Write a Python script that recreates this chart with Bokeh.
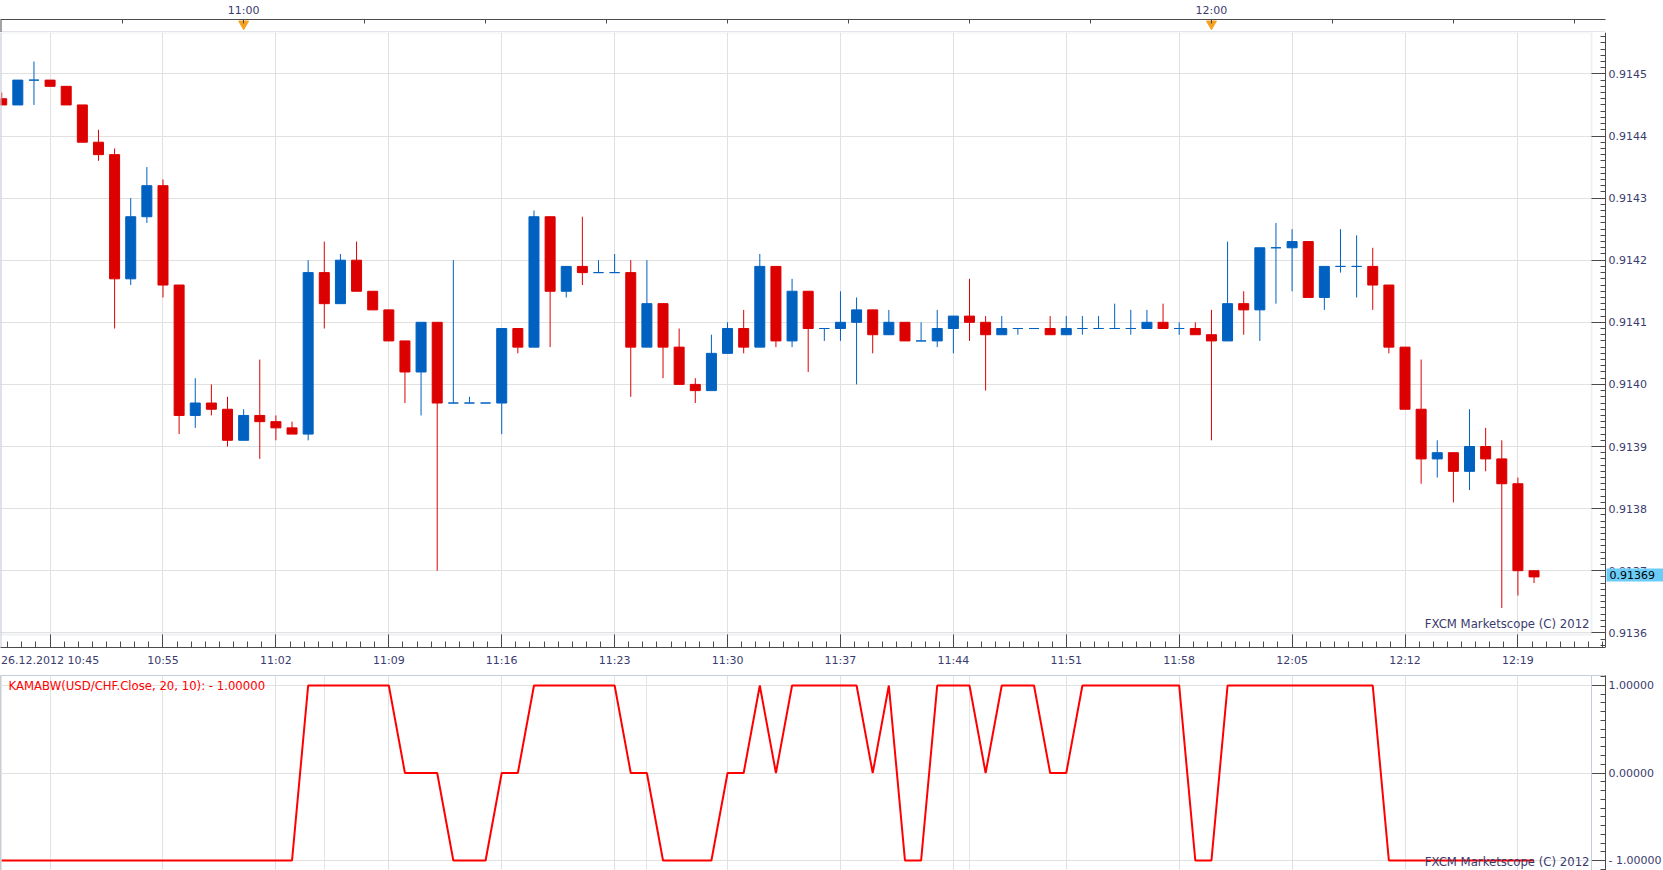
import numpy as np
import pandas as pd
from bokeh.plotting import figure
from bokeh.layouts import column
from bokeh.models import (Range1d, FixedTicker, Span, Label, Grid, ColumnDataSource,
                          PrintfTickFormatter, BoxAnnotation)
from bokeh.embed import file_html
from bokeh.resources import INLINE

# ---------------- data (USD/CHF, 1-minute candles, 26.12.2012) ----------------
start_time = "2012-12-26 10:45"
opens = [0.91446, 0.91445, 0.91449, 0.91449, 0.91448, 0.91445, 0.91439, 0.91437, 0.91417, 0.91427,
         0.91432, 0.91416, 0.91395, 0.91397, 0.91396, 0.91391, 0.91395, 0.91394, 0.91393, 0.91392,
         0.91418, 0.91413, 0.91420, 0.91415, 0.91412, 0.91407, 0.91402, 0.91410, 0.91397, 0.91397,
         0.91397, 0.91397, 0.91409, 0.91406, 0.91427, 0.91415, 0.91419, 0.91418, 0.91418, 0.91418,
         0.91406, 0.91413, 0.91406, 0.91400, 0.91399, 0.91405, 0.91409, 0.91406, 0.91419, 0.91407,
         0.91415, 0.91409, 0.91409, 0.91410, 0.91412, 0.91408, 0.91410, 0.91407, 0.91407, 0.91409,
         0.91411, 0.91410, 0.91408, 0.91409, 0.91409, 0.91409, 0.91408, 0.91409, 0.91409, 0.91409,
         0.91409, 0.91409, 0.91410, 0.91409, 0.91409, 0.91408, 0.91407, 0.91413, 0.91412, 0.91422,
         0.91422, 0.91423, 0.91414, 0.91419, 0.91419, 0.91419, 0.91416, 0.91406, 0.91396, 0.91388,
         0.91389, 0.91386, 0.91390, 0.91388, 0.91384, 0.91370]
highs = [0.91447, 0.91449, 0.91452, 0.91449, 0.91448, 0.91445, 0.91441, 0.91438, 0.91430, 0.91435,
         0.91433, 0.91416, 0.91401, 0.91400, 0.91398, 0.91396, 0.91404, 0.91395, 0.91394, 0.91420,
         0.91423, 0.91421, 0.91423, 0.91415, 0.91412, 0.91407, 0.91410, 0.91410, 0.91420, 0.91398,
         0.91397, 0.91409, 0.91409, 0.91428, 0.91427, 0.91419, 0.91427, 0.91420, 0.91421, 0.91420,
         0.91420, 0.91413, 0.91409, 0.91401, 0.91408, 0.91410, 0.91412, 0.91421, 0.91419, 0.91417,
         0.91415, 0.91409, 0.91415, 0.91414, 0.91412, 0.91412, 0.91410, 0.91410, 0.91412, 0.91411,
         0.91417, 0.91411, 0.91411, 0.91409, 0.91409, 0.91411, 0.91411, 0.91411, 0.91411, 0.91413,
         0.91412, 0.91412, 0.91413, 0.91410, 0.91410, 0.91412, 0.91423, 0.91415, 0.91422, 0.91426,
         0.91425, 0.91423, 0.91419, 0.91425, 0.91424, 0.91422, 0.91416, 0.91406, 0.91404, 0.91391,
         0.91389, 0.91396, 0.91393, 0.91391, 0.91385, 0.91370]
lows = [0.91445, 0.91445, 0.91445, 0.91448, 0.91445, 0.91439, 0.91436, 0.91409, 0.91416, 0.91426,
        0.91414, 0.91392, 0.91393, 0.91395, 0.91390, 0.91391, 0.91388, 0.91391, 0.91392, 0.91391,
        0.91409, 0.91413, 0.91415, 0.91412, 0.91407, 0.91397, 0.91395, 0.91370, 0.91397, 0.91397,
        0.91397, 0.91392, 0.91405, 0.91406, 0.91406, 0.91414, 0.91416, 0.91418, 0.91418, 0.91398,
        0.91406, 0.91401, 0.91400, 0.91397, 0.91399, 0.91405, 0.91405, 0.91406, 0.91406, 0.91406,
        0.91402, 0.91407, 0.91407, 0.91400, 0.91405, 0.91408, 0.91407, 0.91407, 0.91406, 0.91405,
        0.91407, 0.91399, 0.91408, 0.91408, 0.91409, 0.91408, 0.91408, 0.91408, 0.91409, 0.91409,
        0.91408, 0.91409, 0.91409, 0.91408, 0.91408, 0.91391, 0.91407, 0.91408, 0.91407, 0.91413,
        0.91415, 0.91414, 0.91412, 0.91418, 0.91414, 0.91412, 0.91405, 0.91396, 0.91384, 0.91385,
        0.91381, 0.91383, 0.91386, 0.91364, 0.91366, 0.91368]
closes = [0.91445, 0.91449, 0.91449, 0.91448, 0.91445, 0.91439, 0.91437, 0.91417, 0.91427, 0.91432,
          0.91416, 0.91395, 0.91397, 0.91396, 0.91391, 0.91395, 0.91394, 0.91393, 0.91392, 0.91418,
          0.91413, 0.91420, 0.91415, 0.91412, 0.91407, 0.91402, 0.91410, 0.91397, 0.91397, 0.91397,
          0.91397, 0.91409, 0.91406, 0.91427, 0.91415, 0.91419, 0.91418, 0.91418, 0.91418, 0.91406,
          0.91413, 0.91406, 0.91400, 0.91399, 0.91405, 0.91409, 0.91406, 0.91419, 0.91407, 0.91415,
          0.91409, 0.91409, 0.91410, 0.91412, 0.91408, 0.91410, 0.91407, 0.91407, 0.91409, 0.91411,
          0.91410, 0.91408, 0.91409, 0.91409, 0.91409, 0.91408, 0.91409, 0.91409, 0.91409, 0.91409,
          0.91409, 0.91410, 0.91409, 0.91409, 0.91408, 0.91407, 0.91413, 0.91412, 0.91422, 0.91422,
          0.91423, 0.91414, 0.91419, 0.91419, 0.91419, 0.91416, 0.91406, 0.91396, 0.91388, 0.91389,
          0.91386, 0.91390, 0.91388, 0.91384, 0.91370, 0.91369]
kamabw = [-1, -1, -1, -1, -1, -1, -1, -1, -1, -1,
          -1, -1, -1, -1, -1, -1, -1, -1, -1, 1,
          1, 1, 1, 1, 1, 0, 0, 0, -1, -1,
          -1, 0, 0, 1, 1, 1, 1, 1, 1, 0,
          0, -1, -1, -1, -1, 0, 0, 1, 0, 1,
          1, 1, 1, 1, 0, 1, -1, -1, 1, 1,
          1, 0, 1, 1, 1, 0, 0, 1, 1, 1,
          1, 1, 1, 1, -1, -1, 1, 1, 1, 1,
          1, 1, 1, 1, 1, 1, -1, -1, -1, -1,
          -1, -1, -1, -1, -1, -1]
date_label = "26.12.2012 10:45"
bottom_labels = ["10:55", "11:02", "11:09", "11:16", "11:23", "11:30", "11:37",
                 "11:44", "11:51", "11:58", "12:05", "12:12", "12:19"]
date_slot_time = "10:48"          # first grid line; the date stamp is written under it
hour_labels = ["11:00", "12:00"]
price_ticks = [0.9136, 0.9137, 0.9138, 0.9139, 0.9140, 0.9141, 0.9142, 0.9143, 0.9144, 0.9145]
kama_ticks = [-1, 0, 1]
kama_tick_text = {-1: "- 1.00000", 0: "0.00000", 1: "1.00000"}
indicator_name = "KAMABW(USD/CHF.Close, 20, 10): - 1.00000"
copyright_text = "FXCM Marketscope (C) 2012"

# ---------------- layout / style constants ----------------
RED = "#DD0000"
BLUE = "#0061C1"
GRID = "#E1E1E1"
AXIS = "#4A4A4A"
TEXT = "#3B3B6E"
BORDER = "#C6CCD8"
ORANGE = "#F5A31E"
PRICE_BG = "#6CCCF8"
FONT = "DejaVu Sans"
FS = "11px"
FS_NOTE = "11.7px"

CANVAS_W = 1663
PX_PER_MIN = 16.13
PX_PER_UNIT = 621000.0          # pixels per 1.0 of price (62.1 px per pip)
FRAME_W = 1605                   # frame incl. tick band
BAND = 14                        # tick band width (right) / height (bottom)
MAIN_FRAME_H = 615
X0 = -0.074
X_END = X0 + FRAME_W / PX_PER_MIN
X_CANVAS_END = X0 + CANVAS_W / PX_PER_MIN
X_CANDLE_END = X0 + (FRAME_W - BAND) / PX_PER_MIN
Y_END = 0.9136 + 600.3 / PX_PER_UNIT
Y_START = Y_END - MAIN_FRAME_H / PX_PER_UNIT
Y_BAND = Y_START + 13 / PX_PER_UNIT
BODY_W = 0.62

times = pd.date_range(start_time, periods=len(opens), freq="1min").strftime("%H:%M").tolist()
xs = list(range(len(opens)))
colors = [BLUE if c >= o else RED for o, c in zip(opens, closes)]
src = ColumnDataSource(dict(x=xs, o=opens, h=highs, l=lows, c=closes,
                            top=[max(o, c) for o, c in zip(opens, closes)],
                            bottom=[min(o, c) for o, c in zip(opens, closes)],
                            color=colors))

major_x = [times.index(t) for t in [date_slot_time] + bottom_labels]
minor_x = list(np.arange(major_x[0] - 7 / 8 * 3, X_END, 7 / 8))
x_overrides = {times.index(date_slot_time): date_label}
x_overrides.update({times.index(t): t for t in bottom_labels})

hour_x = [times.index(t) for t in hour_labels]
top_ticks = list(np.arange(hour_x[0] - 7.5, X_END, 7.5))
top_overrides = {}
for t in top_ticks:
    key = int(t) if float(t).is_integer() else float(t)
    top_overrides[key] = ""
for t, lab in zip(hour_x, hour_labels):
    top_overrides[t] = lab


def style_common(fig):
    fig.background_fill_color = "white"
    fig.border_fill_color = "white"


# ---------------- top time strip ----------------
top = figure(x_range=Range1d(X0, X_END), y_range=Range1d(0, 1), frame_width=FRAME_W, frame_height=13,
             x_axis_location="above", y_axis_location=None, output_backend="svg",
             toolbar_location=None, min_border_top=18, min_border_bottom=0, min_border_left=0,
             min_border_right=CANVAS_W - FRAME_W, outline_line_color=None)
style_common(top)
top.grid.visible = False
top.xaxis.ticker = FixedTicker(ticks=top_ticks, minor_ticks=[])
top.xaxis.major_label_overrides = top_overrides
top.xaxis.axis_line_color = AXIS
top.xaxis.major_tick_line_color = AXIS
top.xaxis.major_tick_in = 4
top.xaxis.major_tick_out = 0
top.xaxis.minor_tick_line_color = None
top.xaxis.major_label_text_font = FONT
top.xaxis.major_label_text_font_size = FS
top.xaxis.major_label_text_color = TEXT
top.xaxis.major_label_standoff = 3
top.scatter(x=hour_x, y=[0.66] * len(hour_x), marker="inverted_triangle", size=10,
            fill_color=ORANGE, line_color=ORANGE)
top.add_layout(Span(location=0.0, dimension="width", line_color=BORDER, line_width=2))
top.add_layout(Span(location=X0, dimension="height", line_color=AXIS, line_width=2))

# ---------------- main candle panel (frame spans the whole width; price axis sits inside) ----------------
p = figure(x_range=Range1d(X0, X_CANVAS_END), y_range=Range1d(Y_START, Y_END), frame_width=CANVAS_W,
           frame_height=MAIN_FRAME_H, x_axis_location="below", y_axis_location="right",
           output_backend="svg", toolbar_location=None, min_border_top=0, min_border_bottom=28,
           min_border_left=0, min_border_right=0, outline_line_color=None)
style_common(p)
p.xaxis.ticker = FixedTicker(ticks=major_x, minor_ticks=minor_x)
p.xgrid.ticker = FixedTicker(ticks=major_x)
p.xaxis.major_label_overrides = x_overrides
p.xaxis.bounds = (X0, X_END)
p.yaxis.ticker = FixedTicker(ticks=price_ticks,
                             minor_ticks=list(np.arange(0.91355, 0.91460, 0.00001)))
p.ygrid.ticker = FixedTicker(ticks=price_ticks)
p.yaxis.formatter = PrintfTickFormatter(format="%.4f")
p.yaxis.fixed_location = X_END
for g in (p.xgrid, p.ygrid):
    g.grid_line_color = GRID
for ax, tin, min_in in ((p.xaxis, 13, 6), (p.yaxis, 14, 5)):
    ax.axis_line_color = AXIS
    ax.major_tick_line_color = AXIS
    ax.minor_tick_line_color = AXIS
    ax.major_tick_in = tin
    ax.major_tick_out = 0
    ax.minor_tick_in = min_in
    ax.minor_tick_out = 0
    ax.major_label_text_font = FONT
    ax.major_label_text_font_size = FS
    ax.major_label_text_color = TEXT
p.xaxis.major_label_standoff = 6
p.yaxis.major_label_standoff = 3
# blank the label column right of the price axis (hides grid lines there)
p.add_layout(BoxAnnotation(left=X_END + 1 / PX_PER_MIN, fill_color="white", fill_alpha=1.0,
                           line_color=None, level="underlay"))
# frame of the candle area (inside the tick bands)
p.add_layout(BoxAnnotation(left=X0, right=X_CANDLE_END, bottom=Y_BAND, top=Y_END,
                           fill_color=None, line_color=BORDER, line_width=2, level="underlay"))
p.add_layout(Span(location=X0, dimension="height", line_color=BORDER, line_width=2))

p.segment(x0="x", y0="l", x1="x", y1="h", source=src, line_color="color", line_width=1)
p.vbar(x="x", width=BODY_W, top="top", bottom="bottom", source=src,
       fill_color="color", line_color="color", line_width=1)

p.add_layout(Label(x=X_CANDLE_END, x_offset=-2, y=Y_BAND, y_offset=4, text=copyright_text,
                   text_align="right", text_baseline="bottom", text_font=FONT,
                   text_font_size=FS_NOTE, text_color=TEXT))
p.add_layout(Label(x=X_END, x_offset=1, y=closes[-1], y_offset=2, text=f"{closes[-1]:.5f}",
                   text_align="left", text_baseline="middle", text_font=FONT,
                   text_font_size=FS, text_color="black", background_fill_color=PRICE_BG,
                   padding=(3, 12, 3, 2)))

# ---------------- KAMABW indicator panel ----------------
lo = figure(x_range=top.x_range, y_range=Range1d(-1.114, 1.114), frame_width=FRAME_W,
            frame_height=195, x_axis_location=None, y_axis_location="right",
            output_backend="svg", toolbar_location=None, min_border_top=0, min_border_bottom=1,
            min_border_left=0, min_border_right=CANVAS_W - FRAME_W, outline_line_color=BORDER)
style_common(lo)
lo.add_layout(Grid(dimension=0, ticker=FixedTicker(ticks=major_x), grid_line_color=GRID))
lo.ygrid.ticker = FixedTicker(ticks=kama_ticks)
lo.ygrid.grid_line_color = GRID
lo.yaxis.ticker = FixedTicker(ticks=kama_ticks, minor_ticks=list(np.arange(-1.1, 1.11, 0.1)))
lo.yaxis.major_label_overrides = kama_tick_text
lo.yaxis.axis_line_color = AXIS
lo.yaxis.major_tick_line_color = AXIS
lo.yaxis.minor_tick_line_color = AXIS
lo.yaxis.major_tick_in = 14
lo.yaxis.major_tick_out = 0
lo.yaxis.minor_tick_in = 5
lo.yaxis.minor_tick_out = 0
lo.yaxis.major_label_standoff = 3
lo.yaxis.major_label_text_font = FONT
lo.yaxis.major_label_text_font_size = FS
lo.yaxis.major_label_text_color = TEXT
lo.add_layout(Span(location=X_CANDLE_END, dimension="height", line_color=BORDER, line_width=1))
lo.line(x=xs, y=kamabw, line_color="#FF0000", line_width=2)
lo.add_layout(Label(x=X0, x_offset=8, y=1.114, y_offset=-3, text=indicator_name,
                    text_align="left", text_baseline="top", text_font=FONT,
                    text_font_size=FS_NOTE, text_color="#FF0000"))
lo.add_layout(Label(x=X_CANDLE_END, x_offset=-2, y=-1.114, y_offset=2, text=copyright_text,
                    text_align="right", text_baseline="bottom", text_font=FONT,
                    text_font_size=FS_NOTE, text_color=TEXT))

layout = column(top, p, lo, spacing=0)
open("out.html", "w").write(file_html(layout, INLINE))
